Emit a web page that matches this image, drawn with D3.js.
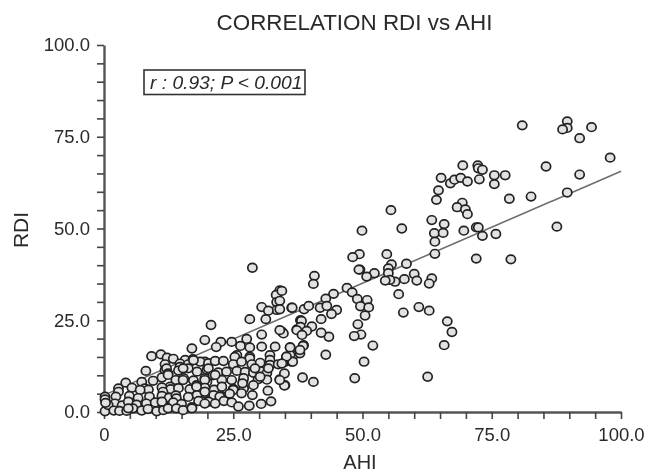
<!DOCTYPE html>
<html><head><meta charset="utf-8">
<script src="https://cdn.jsdelivr.net/npm/d3@7/dist/d3.min.js"></script>
<style>html,body{margin:0;padding:0;background:#fff}svg{display:block}</style>
</head><body><div id="c"></div>
<script>
const title = "CORRELATION RDI vs AHI";
const xLabel = "AHI", yLabel = "RDI";
const note = "r : 0.93; P < 0.001";
const majorTicks = [0,25,50,75,100];
const xTickLabels = ["0","25.0","50.0","75.0","100.0"];
const yTickLabels = ["0.0","25.0","50.0","75.0","100.0"];
const fitAhi = [0,100];
const fitRdi = [4.6,65.6];
// [AHI, RDI]
const highSamples = [[80.9,78.1],[89.6,79.2],[89.6,77.4],[88.7,77],[94.3,77.6],[92,74.6],[97.9,69.3],[85.5,66.9],[92,64.7],[89.6,59.8],[87.6,50.5],[82.6,58.7],[78.4,58.1],[78.7,41.6],[75.8,48.5],[73.2,48],[72,50.3],[72.4,50.3],[72,41.8],[69.6,49.4],[69.4,67.2],[72.3,67.2],[72.4,66.4],[73.2,66],[65.2,63.8],[67,62.3],[67.8,63.3],[69,63.8],[70.3,62.8],[72.6,63.4],[75.5,64.5],[77.6,64.5],[75.5,62.1],[64.7,60.4],[64.3,57.8],[69.3,57],[68.3,55.8],[69.9,55.2],[70.3,53.9],[63.4,52.3],[65.8,51.2],[63.9,48.7],[65.6,48.8],[64,46.4],[64,43.1],[55.5,55],[49.9,49.4],[57.6,50],[54.7,43],[49.4,43],[48.1,42.2],[55.6,40.2],[58.5,40.4],[49.5,38.8],[49.3,38.8],[55,39.1],[52.3,37.8],[50.8,36.9],[55,37.8],[60,37.6],[63.4,36.4],[62.9,35],[60.5,35.8],[58.1,36.2],[56.3,35.5],[55.3,36],[54.4,35.8]];
const midSamples = [[40.7,37.1],[40.5,34.9],[47,33.8],[44.4,32.2],[42.9,30.9],[48,32.6],[49,30.8],[50.9,30.5],[57,32.1],[36.4,28.4],[34.4,33],[34,30.3],[34,28],[38.7,28],[39.6,28.9],[41.8,28.4],[43.1,28.9],[45,27.8],[44,26.7],[42,25.3],[49.6,28.8],[51.2,28.5],[50.5,26.3],[49.1,23.9],[60.9,28.6],[62.9,27.6],[57.9,27.1],[66.4,24.7],[67.3,21.8],[65.8,18.2],[52,18.1],[49.7,21.1],[48.4,20.7],[43.5,20.5],[42,21.6],[40.2,23.3],[38.2,24.8],[38,23.2],[37.3,22.3],[39.2,22.1],[34.7,21.4],[34,22.3],[38.3,21],[42.9,15.6],[50.3,13.7],[38.5,18],[37.9,16.9],[36,17.6],[36.5,13.7],[35.3,15.1],[38.4,9.4],[40.5,8.2],[48.5,9.2],[62.6,9.6],[34.9,7.2],[34.9,10.5],[34,8.7],[34.4,13.2]];
const lowSamples = [[28.7,39.3],[34,33.1],[33.3,31.9],[33.4,29.9],[33.4,27.8],[30.5,28.6],[31.8,27.6],[36.3,28.4],[31.3,25.3],[28.2,25.3],[20.7,23.7],[19.5,19.6],[22.6,19.1],[24.7,19.1],[27.6,19.9],[30.5,21.1],[34.4,21.9],[37.3,22.5],[38,25],[21.7,17.7],[17,17.3],[26.4,18],[28.2,17.6],[30.5,17.8],[33.1,17.8],[36,17.6],[38.6,18.2],
[9.2,15.2],[11,15.7],[12.2,14.8],[13.4,14.5],[15.7,14.2],[17.2,14.4],[19.5,13.7],[25.7,15.5],[28.2,15.1],[32.1,15.5],[35.3,15.1],[36.6,15.4],[18.6,13.7],[25.3,15],[28.2,14.6],[32.1,14.2],[35,13.7],[37.9,16],[36,15.5],
[11.8,13],[14.7,13.2],[16.3,13],[20.2,13.3],[21.5,13.9],[23.1,13.9],[25,13],[26.6,13.7],[28.6,13],[30.2,13.4],[32.1,12.8],[33.7,13],[36.3,13.7],[14.7,12.3],[17.3,14.1],
[8.1,11.2],[11.8,11.4],[14.4,11.3],[16.3,11.9],[18,11],[19.9,11.5],[22.1,10.8],[23.7,11],[25.7,11.2],[27.3,10.9],[28.9,10.7],[30.2,11.1],[31.5,10.6],[12.1,11.9],[15.3,11.9],[20.2,11.9],[29.2,11.9],[31.8,11.9],[12.4,10.5],
[4.2,8],[7.3,8.2],[9.5,8.5],[11.2,9.4],[12.4,10.1],[13.9,8.7],[15.4,9.2],[17.3,8.6],[19.5,9.2],[21.1,10],[22.8,8.7],[24.7,8.7],[26.9,8.4],[29.8,8.9],[31.5,8.8],[34,8.9],[35,7.3],[21.5,10.1],[30.2,9.6],[27,9.2],[19.9,8.2],[15.3,8.7],[19.5,8.7],[28.9,7.3],[12.8,6.9],
[2.8,6.4],[5.4,6.6],[7.9,6.4],[8.6,6.1],[11.2,6.7],[12.9,6.2],[14.4,6.5],[16.6,6.2],[17.9,7.3],[19.5,6.6],[21.3,6.1],[22.8,6.9],[25,6.3],[27,6.4],[26.8,7.8],[31.7,5.8],[7,6],[2.8,5.5],[11.4,5.5],[19.5,5.5],[25,6],[17.9,6.9],[19.5,5.1],
[0.2,4.2],[2.3,4.2],[4.9,4.4],[6.6,3.8],[8.8,4.2],[11.2,4.4],[12.6,3.9],[13.9,4.5],[16.3,4.1],[18,4.6],[19.5,5.5],[21.2,4.6],[22.8,4.3],[24.3,5],[26.6,5.1],[28.7,4.6],[14,3.7],[22.4,4.2],[0.2,3.4],
[2.1,2.3],[3.5,1.8],[4.7,2.8],[6.3,2],[8.2,2.3],[9.9,2.6],[11.4,2.3],[13.4,2.6],[15,2.2],[17,1.3],[18.3,3],[20.2,2.8],[21.5,2.3],[23.2,3],[24.7,2.6],[26,1.5],[28.1,1.7],[30.4,2.2],[32.3,2.9],[19.5,2.3],[11.2,2.8],
[0.2,0.2],[0.8,1.9],[1.9,0.4],[3,0.3],[4.4,0.3],[5.6,1],[7.3,0.4],[8.5,0.8],[10.2,0.2],[11.5,0.5],[12.4,1],[14,1],[15.3,0.5],[0.3,2.5],[4.7,1],[17,1]];

const W=649,H=473;
const x=d3.scaleLinear().domain([0,100]).range([104,621]);
const y=d3.scaleLinear().domain([0,100]).range([412,45]);
const svg=d3.select("#c").append("svg").attr("width",W).attr("height",H);
const defs=svg.append("defs");
defs.append("filter").attr("id","soft").attr("x","-5%").attr("y","-5%").attr("width","110%").attr("height","110%")
  .append("feGaussianBlur").attr("stdDeviation",0.55);
const g=svg.append("g").attr("filter","url(#soft)").style("font-family","'Liberation Sans',Arial,sans-serif").style("fill","#2a2a2a");

const minor=d3.range(0,101,5);
const fmtX=d=>xTickLabels[majorTicks.indexOf(d)]||"";
const fmtY=d=>yTickLabels[majorTicks.indexOf(d)]||"";
const ax=g.append("g").attr("transform","translate(0,412)")
  .call(d3.axisBottom(x).tickValues(minor).tickSize(7).tickPadding(9).tickSizeOuter(0).tickFormat(fmtX));
const ay=g.append("g").attr("transform","translate(104,0)")
  .call(d3.axisLeft(y).tickValues(minor).tickSize(7).tickPadding(7).tickSizeOuter(0).tickFormat(fmtY));
[ax,ay].forEach(a=>{
  a.selectAll("path").attr("stroke","#555").attr("stroke-width",2.4);
  a.selectAll("line").attr("stroke","#444").attr("stroke-width",1.6);
  a.selectAll("text").attr("fill","#2a2a2a").style("font-size","18.5px").style("font-family","'Liberation Sans',Arial,sans-serif");
});

g.append("line").attr("x1",x(fitAhi[0])).attr("y1",y(fitRdi[0])).attr("x2",x(fitAhi[1])).attr("y2",y(fitRdi[1]))
  .attr("stroke","#6e6e6e").attr("stroke-width",1.6);

g.append("g").selectAll("ellipse").data([...lowSamples,...midSamples,...highSamples]).join("ellipse")
  .attr("cx",d=>x(d[0])).attr("cy",d=>y(d[1])).attr("rx",4.6).attr("ry",4.3)
  .attr("fill","#e2e2e2").attr("stroke","#222").attr("stroke-width",1.7);

g.append("text").attr("x",354.5).attr("y",30).attr("text-anchor","middle").style("font-size","22.4px").text(title);
g.append("text").attr("x",360).attr("y",468.5).attr("text-anchor","middle").style("font-size","20px").text(xLabel);
g.append("text").attr("transform","translate(28,230) rotate(-90)").attr("text-anchor","middle").style("font-size","21px").text(yLabel);

g.append("rect").attr("x",144).attr("y",70).attr("width",161).attr("height",24.5).attr("fill","#fff").attr("stroke","#333").attr("stroke-width",1.6);
g.append("text").attr("x",150).attr("y",89).style("font-size","19.2px").style("font-style","italic").text(note);
</script></body></html>
